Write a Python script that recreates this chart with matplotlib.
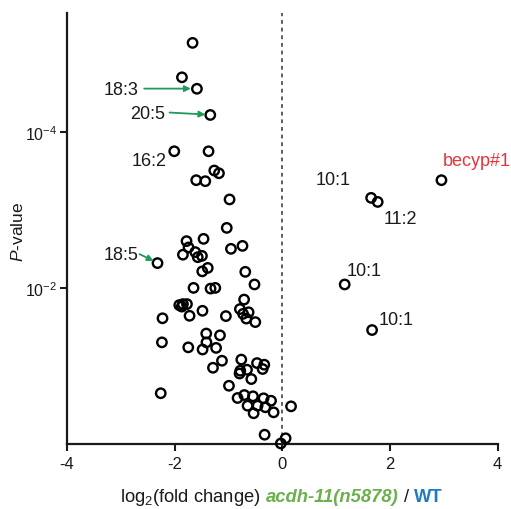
import matplotlib
matplotlib.use("Agg")
import matplotlib.pyplot as plt
import numpy as np
from matplotlib.offsetbox import TextArea, HPacker, AnchoredOffsetbox

plt.rcParams["font.family"] = ["Liberation Sans", "DejaVu Sans"]
plt.rcParams["mathtext.fontset"] = "custom"
plt.rcParams["mathtext.rm"] = "Liberation Sans"
plt.rcParams["mathtext.it"] = "Liberation Sans:italic"
plt.rcParams["mathtext.bf"] = "Liberation Sans:bold"

# log2 fold change and log10(P) of each lipid species
log2_fc = [
    -1.667, -1.864, -1.586, -1.338, -2.007, -1.370, -1.264, -1.177, -1.599, -1.431,
    -0.980, -1.032, -1.463, -1.779, -0.954, -0.740, -1.742, -1.846, -1.617, -1.571,
    -1.493, -2.318, -1.487, -1.385, -0.688, -0.517, -1.649, -1.333, -1.245,
    -1.914, -1.846, -1.771, -1.868, -1.483, -1.723, -2.225, -1.048,
    -0.710, -0.788, -0.729, -0.626, -0.669, -0.502,
    -2.236, -1.413, -1.158, -1.409, -1.747, -1.481, -1.230, -1.121, -1.288,
    -0.762, -0.781, -0.794, -0.656, -0.576, -0.470, -0.335, -0.366, -0.991,
    -2.258, -0.831, -0.706, -0.545, -0.348, -0.210, -0.645, -0.459, -0.316,
    -0.533, -0.162, 0.162, -0.329, 0.061, -0.028,
    2.955, 1.649, 1.771, 1.158, 1.667,
]
log10_p = [
    -5.147, -4.705, -4.558, -4.222, -3.756, -3.756, -3.509, -3.474, -3.385, -3.372,
    -3.138, -2.773, -2.632, -2.603, -2.504, -2.542, -2.522, -2.429, -2.462, -2.397,
    -2.414, -2.321, -2.215, -2.259, -2.209, -2.047, -2.003, -1.994, -2.003,
    -1.782, -1.795, -1.795, -1.763, -1.709, -1.645, -1.613, -1.641,
    -1.853, -1.731, -1.670, -1.690, -1.609, -1.564,
    -1.304, -1.417, -1.394, -1.304, -1.240, -1.212, -1.233, -1.068, -0.978,
    -1.083, -0.940, -0.904, -0.953, -0.833, -1.038, -1.017, -0.962, -0.747,
    -0.651, -0.590, -0.628, -0.612, -0.586, -0.555, -0.491, -0.491, -0.471,
    -0.394, -0.406, -0.483, -0.119, -0.073, -0.006,
    -3.385, -3.158, -3.106, -2.047, -1.462,
]
p_values = 10.0 ** np.array(log10_p)

# labels with green arrows: text, text position, arrow tail, arrow tip
arrow_labels = [
    ("18:3", (-2.677, -4.551), (-2.565, -4.560), (-1.700, -4.560)),
    ("20:5", (-2.175, -4.240), (-2.095, -4.253), (-1.430, -4.228)),
    ("18:5", (-2.677, -2.436), (-2.652, -2.436), (-2.392, -2.350)),
]
# plain labels: text, position, horizontal alignment, colour
plain_labels = [
    ("16:2", (-2.156, -3.632), "right", "#1a1a1a"),
    ("becyp#1", (2.987, -3.632), "left", "#e8333c"),
    ("10:1", (0.626, -3.397), "left", "#1a1a1a"),
    ("11:2", (1.877, -2.897), "left", "#1a1a1a"),
    ("10:1", (1.190, -2.231), "left", "#1a1a1a"),
    ("10:1", (1.784, -1.603), "left", "#1a1a1a"),
]

x_ticks = [-4, -2, 0, 2, 4]
y_ticks = [1e-4, 1e-2]
y_tick_labels = [r"$10^{-4}$", r"$10^{-2}$"]

fig = plt.figure(figsize=(5.11, 5.10), dpi=100)
ax = fig.add_axes([0.131, 0.1275, 0.843, 0.845])

ax.axvline(0, color="#333333", lw=1.1, ls=(0, (2.5, 2.5)), zorder=1)
ax.scatter(log2_fc, p_values, s=46, facecolors="none", edgecolors="black",
           linewidths=1.7, zorder=3, clip_on=False)

ax.set_yscale("log")
ax.set_ylim(1.0, 10 ** -5.53)
ax.set_xlim(-4, 4)
ax.set_xticks(x_ticks)
ax.set_xticklabels([str(t) for t in x_ticks])
ax.set_yticks(y_ticks)
ax.set_yticklabels(y_tick_labels)
ax.yaxis.set_minor_locator(matplotlib.ticker.NullLocator())

for side in ("top", "right"):
    ax.spines[side].set_visible(False)
for side in ("left", "bottom"):
    ax.spines[side].set_linewidth(1.6)
    ax.spines[side].set_color("#1a1a1a")
ax.tick_params(axis="both", direction="out", length=5, width=1.5,
               color="#1a1a1a", labelsize=12, labelcolor="#1a1a1a", pad=4)
ax.tick_params(axis="y", labelsize=11.5, pad=2)

for txt, (tx, ty), (ax0, ay0), (ax1, ay1) in arrow_labels:
    ax.text(tx, 10 ** ty, txt, ha="right", va="center", fontsize=13, color="#1a1a1a")
    ax.annotate("", xy=(ax1, 10 ** ay1), xytext=(ax0, 10 ** ay0),
                arrowprops=dict(arrowstyle="-|>", color="#1e9c5a", lw=1.3,
                                mutation_scale=9, shrinkA=0, shrinkB=0))

for txt, (tx, ty), ha, col in plain_labels:
    ax.text(tx, 10 ** ty, txt, ha=ha, va="center", fontsize=13, color=col)

fig.text(18 / 511, 1 - 232 / 510, r"$P$-value", rotation=90, ha="center",
         va="center", fontsize=12.5, color="#1a1a1a")

label_size = 13.2
parts = [
    TextArea(r"log$_2$(fold change)", textprops=dict(fontsize=label_size, color="#1a1a1a")),
    TextArea("acdh-11(n5878)", textprops=dict(fontsize=label_size, color="#6ab04c",
                                              fontweight="bold", fontstyle="italic")),
    TextArea("/", textprops=dict(fontsize=label_size, color="#1a1a1a")),
    TextArea("WT", textprops=dict(fontsize=label_size, color="#1f7bc1", fontweight="bold")),
]
box = HPacker(children=parts, align="baseline", pad=0, sep=3.8)
anchored = AnchoredOffsetbox(loc="center", child=box, pad=0, frameon=False,
                             bbox_to_anchor=(281.7 / 511, 12 / 510),
                             bbox_transform=fig.transFigure, borderpad=0)
fig.add_artist(anchored)

fig.savefig("out.png", dpi=100)
